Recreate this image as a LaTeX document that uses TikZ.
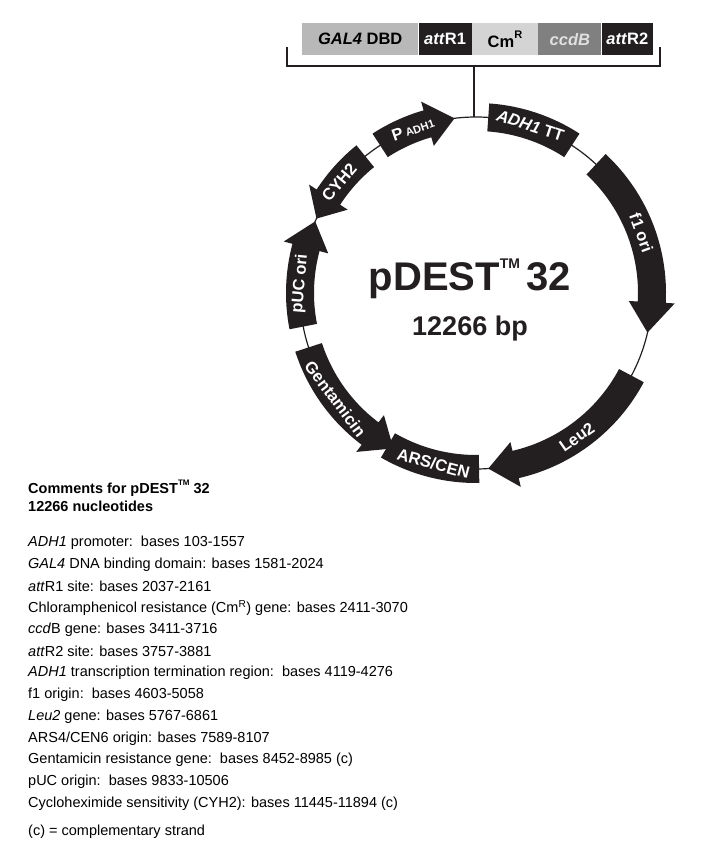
\documentclass[tikz,border=0pt]{standalone}
\usepackage{fontspec}
\setmainfont{Liberation Sans}
\usetikzlibrary{positioning}
\definecolor{ink}{HTML}{231F20}
\tikzset{
  band/.style={fill=ink},
  bandtext/.style={text=white, font=\fontsize{16.5}{16.5}\selectfont\bfseries, inner sep=0pt},
  cassette/.style={draw=none, minimum height=32pt, inner sep=0pt, font=\fontsize{16.5}{16.5}\selectfont\bfseries},
  note/.style={anchor=west, inner sep=0pt, font=\fontsize{14.5}{17}\selectfont}
}
% arc arrow: start angle, head base angle, tip angle
\newcommand{\arcarrow}[3]{%
  \fill[band] (#1:162) arc[start angle=#1, end angle=#2, radius=162] -- (#2:153) -- (#3:176)
    -- (#2:199) -- (#2:190) arc[start angle=#2, end angle=#1, radius=190] -- cycle;}
% arc box: start angle, end angle
\newcommand{\arcbox}[2]{%
  \fill[band] (#1:162) arc[start angle=#1, end angle=#2, radius=162] -- (#2:190)
    arc[start angle=#2, end angle=#1, radius=190] -- cycle;}
\newcommand{\tmark}[1]{\raisebox{0.55em}{\fontsize{#1}{#1}\selectfont TM}}
\begin{document}
\begin{tikzpicture}[x=1pt,y=1pt]
\useasboundingbox (0,0) rectangle (709,852);
% cassette on top
\node[cassette, fill=black!28, minimum width=116pt, anchor=north west] (gal) at (302,829) {\textit{GAL4} DBD};
\node[cassette, fill=ink, text=white, minimum width=53pt, right=0pt of gal] (r1) {\textit{att}R1};
\node[cassette, fill=black!17, minimum width=66pt, right=0pt of r1] (cm) {Cm\raisebox{0.5em}{\fontsize{11}{11}\selectfont R}};
\node[cassette, fill=black!50, text=black!12, minimum width=63pt, right=0pt of cm] (ccdb) {\textit{ccdB}};
\node[cassette, fill=ink, text=white, minimum width=51pt, right=0pt of ccdb] (r2) {\textit{att}R2};
\coordinate (brl) at (287,805);
\coordinate (brr) at (660,805);
\coordinate (brm) at (474,786);
\coordinate (ins) at (474,735);
\draw[line width=1.2pt, ink] (brl) |- (brm) -| (brr);
\draw[line width=1.2pt, ink] (brm) -- (ins);
% plasmid map
\begin{scope}[shift={(476,559)}]
  \draw[line width=1.2pt, ink] (0,0) circle[radius=176];
  \arcarrow{123}{106}{97}
  \node[bandtext, rotate=19] at (111:176) {P\,{\fontsize{11}{11}\selectfont ADH1}};
  \arcbox{86}{57}
  \node[bandtext, rotate=-18] at (72:176) {\textit{ADH1} TT};
  \arcarrow{47}{-3}{-13}
  \node[bandtext, rotate=-70] at (20:176) {f1 ori};
  \arcarrow{-28}{-77}{-86}
  \node[bandtext, rotate=35] at (-55:176) {Leu2};
  \arcbox{-89}{-120}
  \node[bandtext, rotate=-15] at (-104:176) {ARS/CEN};
  \arcarrow{198}{233}{242}
  \node[bandtext, rotate=-53] at (217:176) {Gentamicin};
  \arcarrow{191}{165}{156}
  \node[bandtext, rotate=85] at (177:176) {pUC ori};
  \arcarrow{129}{147}{155}
  \node[bandtext, rotate=50] at (141:176) {CYH2};
  \node[font=\fontsize{40}{40}\selectfont\bfseries, text=ink] (name) at (-6,14) {pDEST\tmark{14}\,32};
  \node[font=\fontsize{27}{27}\selectfont\bfseries, text=ink, below=10pt of name] (size) {12266 bp};
\end{scope}
% comments
\node[note, font=\fontsize{14.5}{17}\selectfont\bfseries] (t1) at (28,364) {Comments for pDEST\tmark{8} 32};
\node[note, font=\fontsize{14.5}{17}\selectfont\bfseries] (t2) at (28,346) {12266 nucleotides};
\node[note] (c1) at (28,309) {\textit{ADH1} promoter:\ \ bases 103-1557};
\node[note] (c2) at (28,287.3) {\textit{GAL4} DNA binding domain: bases 1581-2024};
\node[note] (c3) at (28,265.6) {\textit{att}R1 site: bases 2037-2161};
\node[note] (c4) at (28,243.9) {Chloramphenicol resistance (Cm$^{\mathrm{R}}$) gene: bases 2411-3070};
\node[note] (c5) at (28,222.2) {\textit{ccd}B gene: bases 3411-3716};
\node[note] (c6) at (28,200.5) {\textit{att}R2 site: bases 3757-3881};
\node[note] (c7) at (28,178.8) {\textit{ADH1} transcription termination region:\ \ bases 4119-4276};
\node[note] (c8) at (28,157.1) {f1 origin:\ \ bases 4603-5058};
\node[note] (c9) at (28,135.4) {\textit{Leu2} gene: bases 5767-6861};
\node[note] (c10) at (28,113.7) {ARS4/CEN6 origin: bases 7589-8107};
\node[note] (c11) at (28,92) {Gentamicin resistance gene:\ \ bases 8452-8985 (c)};
\node[note] (c12) at (28,70.3) {pUC origin:\ \ bases 9833-10506};
\node[note] (c13) at (28,48.6) {Cycloheximide sensitivity (CYH2): bases 11445-11894 (c)};
\node[note] (c14) at (28,20) {(c) = complementary strand};
\end{tikzpicture}
\end{document}
